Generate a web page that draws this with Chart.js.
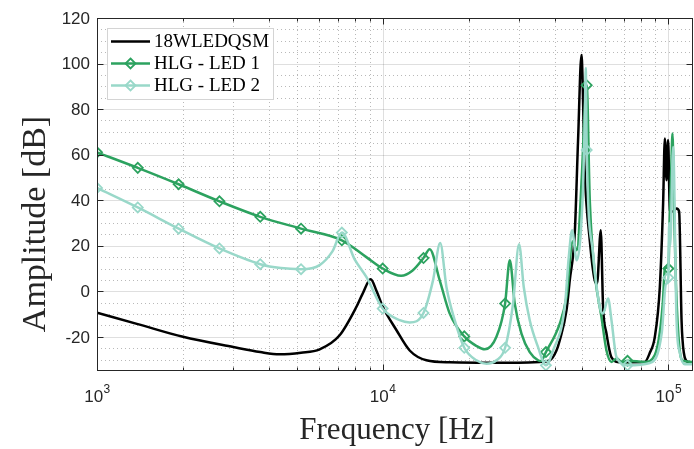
<!DOCTYPE html>
<html>
<head>
<meta charset="utf-8">
<script src="https://cdn.jsdelivr.net/npm/chart.js@4.4.0/dist/chart.umd.min.js"></script>
<style>
  html, body { margin: 0; padding: 0; background: #fff; overflow: hidden; }
  canvas { display: block; }
</style>
</head>
<body>
<canvas id="chart" width="694" height="449"></canvas>
<script>
/* ---------- data ---------- */
const seriesNames  = ['18WLEDQSM', 'HLG - LED 1', 'HLG - LED 2'];
const seriesColors = ['#000000', '#2ca25f', '#99d8c9'];

// frequencies where the green curves carry a diamond marker
const markerFreq = [1000, 1389, 1931, 2683, 3728, 5179, 7197, 10000, 13895, 19307, 26827, 37276, 51795, 71969, 100000];

const yTicks = [-20, 0, 20, 40, 60, 80, 100, 120];
const xDecades = [3, 4, 5];

const freqBlack = [1000,1389,2000,3000,3728,4358,5179,6017,7070,8089,8511,9077,9526,10024,11167,12433,14225,17170,25690,35470,38460,40590,41690,44000,45180,47040,48310,49650,51000,53090,55270,56300,58010,59100,60740,63240,67630,82740,86140,89680,93380,95890,97220,98560,99840,101220,103700,106830,109100,111240,113320,117030,122000];
const ampBlack  = [-9.4,-14.4,-20,-24.5,-26.7,-27.7,-27,-25.5,-19.3,-6.9,-1,5.3,0,-6.9,-17,-26,-30.3,-31.2,-31.4,-31,-30.3,-26,-21.5,-8.4,4.8,25.5,66.4,103.7,51.9,22.4,4.8,3.4,26.8,-6.9,-18.5,-29,-31.2,-31,-27,-20,1.9,38.7,67.1,48.8,66.4,35.6,35,36.3,35,-12.7,-27,-31,-31.3];

const freqLed1 = [1000,1389,1931,2683,3728,5179,7197,8768,10000,11600,12700,13895,14610,15840,17170,19307,21290,22770,25020,26827,27860,29000,30610,32720,34990,35800,37276,41690,44000,46290,47800,49770,51000,51795,53090,55270,58340,60740,63240,66010,68730,71969,82740,89680,93380,95660,97430,100000,101220,102450,103440,104530,106230,108840,112410,122000];
const ampLed1  = [61,54.2,47,39.5,32.7,27.5,22.4,15,10,6.8,9,14.6,18.5,4.8,-9.8,-19.8,-24,-25.5,-20,-5.4,13.6,-5.4,-18.6,-26.7,-30.3,-30.6,-26.7,-14.2,-2.5,22,18,50,80,90.5,40,7.9,-11.3,-26,-31,-29.5,-31.2,-30.5,-31,-28,-18,-5,10.7,10,34,55,69.3,40,5,-22,-30.5,-31];

const freqLed2 = [1000,1389,1931,2683,3728,4400,5179,6017,6670,7197,7979,8768,10000,11470,12433,13895,15006,15900,16720,17870,19307,21290,23080,25020,26827,28600,30020,31180,32720,34990,37276,39490,43400,44820,46030,47770,50300,51000,51400,51795,54520,57550,59100,61530,63240,65850,71969,86140,94900,98000,100000,100650,101500,103950,106830,109720,114240,122000];
const ampLed2  = [45.4,36.8,27.5,18.8,11.9,10.2,9.7,11.5,17.5,25.8,14,6.3,-7.6,-12.7,-13.7,-9.5,4.8,21.2,1.9,-12.7,-24.8,-30.3,-31.8,-30.3,-24.8,-5.4,20.7,1.9,-12.7,-24.5,-32.5,-26,-6.9,15,26.8,13.6,45.8,75,98,62,16.6,-6.9,-9.8,-3.2,-12.7,-28.9,-32.5,-31.5,-18,3,6,30,20,63.4,-12.7,-27,-32,-32];

/* ---------- helpers ---------- */
function pts(fs, vs) { return fs.map((f, i) => ({ x: f, y: vs[i] })); }
function markerRadius(ctx) { return markerFreq.includes(ctx.raw.x) ? 5 : 0; }

const INK = '#262626';
const TICK_FONT = '17px "Liberation Sans", Arial, sans-serif';
const EXP_FONT = '12px "Liberation Sans", Arial, sans-serif';
const SERIF = '"Liberation Serif", "Times New Roman", serif';
const LINE_W = 2.5;

/* grid under the curves (major solid, minor dotted) */
const gridPlugin = {
  id: 'matlabGrid',
  beforeDatasetsDraw(chart) {
    const { ctx, chartArea: a, scales: { x, y } } = chart;
    const hl = (py) => { ctx.beginPath(); ctx.moveTo(a.left, py); ctx.lineTo(a.right, py); ctx.stroke(); };
    const vl = (px) => { ctx.beginPath(); ctx.moveTo(px, a.top); ctx.lineTo(px, a.bottom); ctx.stroke(); };
    ctx.save();
    ctx.lineWidth = 1;
    ctx.strokeStyle = 'rgba(38,38,38,0.32)';
    ctx.setLineDash([1, 3]);
    for (let v = -30; v < 120; v += 5) {
      if (v % 20 !== 0) hl(Math.round(y.getPixelForValue(v)) + 0.5);
    }
    xDecades.forEach(d => {
      for (let m = 2; m <= 9; m++) {
        const f = m * Math.pow(10, d);
        if (f < x.max) vl(Math.round(x.getPixelForValue(f)) + 0.5);
      }
    });
    ctx.setLineDash([]);
    ctx.strokeStyle = 'rgba(38,38,38,0.15)';
    yTicks.forEach(v => { if (v < 120) hl(Math.round(y.getPixelForValue(v)) + 0.5); });
    xDecades.forEach(d => {
      const f = Math.pow(10, d);
      if (f > x.min) vl(Math.round(x.getPixelForValue(f)) + 0.5);
    });
    ctx.restore();
  }
};

/* axes box, ticks, labels, titles and legend on top */
const axesPlugin = {
  id: 'matlabAxes',
  afterDraw(chart) {
    const { ctx, chartArea: a, scales: { x, y } } = chart;
    const L = Math.round(a.left) + 0.5, R = Math.round(a.right) - 0.5;
    const T = Math.round(a.top) + 0.5, B = Math.round(a.bottom) - 0.5;
    ctx.save();
    ctx.strokeStyle = INK;
    ctx.lineWidth = 1;
    ctx.strokeRect(L, T, R - L, B - T);

    // x ticks (inward, bottom and top)
    ctx.beginPath();
    xDecades.forEach(d => {
      for (let m = 1; m <= 9; m++) {
        const f = m * Math.pow(10, d);
        if (f > x.max) continue;
        const px = Math.round(x.getPixelForValue(f)) + 0.5;
        const len = m === 1 ? 6 : 3;
        ctx.moveTo(px, B); ctx.lineTo(px, B - len);
        ctx.moveTo(px, T); ctx.lineTo(px, T + len);
      }
    });
    // y ticks (inward, left and right)
    yTicks.forEach(v => {
      const py = Math.round(y.getPixelForValue(v)) + 0.5;
      ctx.moveTo(L, py); ctx.lineTo(L + 6, py);
      ctx.moveTo(R, py); ctx.lineTo(R - 6, py);
    });
    ctx.stroke();

    // y tick labels
    ctx.fillStyle = INK;
    ctx.font = TICK_FONT;
    ctx.textAlign = 'right';
    ctx.textBaseline = 'middle';
    yTicks.forEach(v => ctx.fillText(String(v), a.left - 7, y.getPixelForValue(v) + 1));

    // x tick labels as 10^n
    ctx.textBaseline = 'alphabetic';
    ctx.textAlign = 'left';
    xDecades.forEach(d => {
      const px = x.getPixelForValue(Math.pow(10, d));
      ctx.font = TICK_FONT;
      const wb = ctx.measureText('10').width;
      ctx.font = EXP_FONT;
      const we = ctx.measureText(String(d)).width;
      const x0 = px - (wb + we) / 2;
      ctx.font = TICK_FONT;
      ctx.fillText('10', x0, 402);
      ctx.font = EXP_FONT;
      ctx.fillText(String(d), x0 + wb + 0.5, 393);
    });

    // axis titles
    ctx.fillStyle = '#262626';
    ctx.font = '31px ' + SERIF;
    ctx.textAlign = 'center';
    ctx.fillText('Frequency [Hz]', (a.left + a.right) / 2 + 2, 439);
    ctx.save();
    ctx.translate(45, 224);
    ctx.rotate(-Math.PI / 2);
    ctx.font = '34px ' + SERIF;
    ctx.fillText('Amplitude [dB]', 0, 0);
    ctx.restore();

    // legend
    const lx = 107.5, ly = 28.5, lw = 166, lh = 71;
    ctx.fillStyle = '#ffffff';
    ctx.fillRect(lx, ly, lw, lh);
    ctx.strokeStyle = '#d4d4d4';
    ctx.strokeRect(lx, ly, lw, lh);
    ctx.font = '19px ' + SERIF;
    ctx.textAlign = 'left';
    ctx.textBaseline = 'middle';
    seriesNames.forEach((name, i) => {
      const ry = 41.5 + i * 22;
      ctx.strokeStyle = seriesColors[i];
      ctx.lineWidth = LINE_W;
      ctx.beginPath(); ctx.moveTo(111, ry); ctx.lineTo(150, ry); ctx.stroke();
      if (i > 0) {
        const r = 5;
        ctx.lineWidth = 1.8;
        ctx.beginPath();
        ctx.moveTo(130.5, ry - r); ctx.lineTo(130.5 + r, ry);
        ctx.lineTo(130.5, ry + r); ctx.lineTo(130.5 - r, ry);
        ctx.closePath(); ctx.stroke();
      }
      ctx.fillStyle = '#000';
      ctx.fillText(name, 154, ry + 1);
    });
    ctx.restore();
  }
};

/* ---------- chart ---------- */
function lineSet(i, data, order, withMarkers) {
  return {
    label: seriesNames[i],
    data: data,
    borderColor: seriesColors[i],
    backgroundColor: 'rgba(0,0,0,0)',
    borderWidth: LINE_W,
    cubicInterpolationMode: 'monotone',
    pointStyle: 'rectRot',
    pointRadius: withMarkers ? markerRadius : 0,
    pointBorderColor: seriesColors[i],
    pointBackgroundColor: 'rgba(255,255,255,0)',
    pointBorderWidth: 1.8,
    order: order
  };
}

const ctx = document.getElementById('chart').getContext('2d');
new Chart(ctx, {
  type: 'line',
  data: {
    datasets: [
      lineSet(0, pts(freqBlack, ampBlack), 3, false),
      lineSet(1, pts(freqLed1, ampLed1), 2, true),
      lineSet(2, pts(freqLed2, ampLed2), 1, true)
    ]
  },
  options: {
    responsive: false,
    animation: false,
    devicePixelRatio: 1,
    layout: { autoPadding: false, padding: { top: 18, right: 1, left: 0, bottom: 0 } },
    plugins: { legend: { display: false }, tooltip: { enabled: false } },
    scales: {
      x: {
        type: 'logarithmic', min: 1000, max: 122000,
        grid: { display: false }, border: { display: false },
        ticks: { display: false },
        afterFit(s) { s.height = 78; }
      },
      y: {
        type: 'linear', min: -35, max: 120,
        grid: { display: false }, border: { display: false },
        ticks: { display: false },
        afterFit(s) { s.width = 97; }
      }
    }
  },
  plugins: [gridPlugin, axesPlugin]
});
</script>
</body>
</html>
